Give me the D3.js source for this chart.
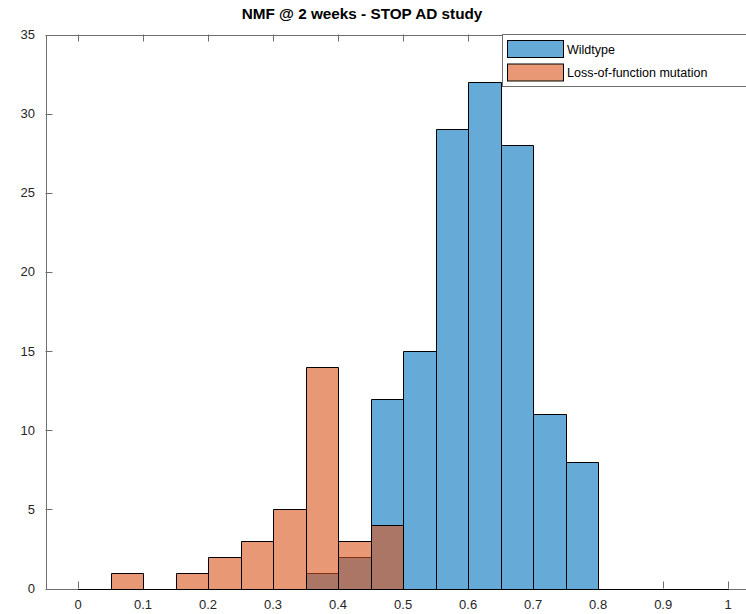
<!DOCTYPE html>
<html>
<head>
<meta charset="utf-8">
<script src="https://cdn.jsdelivr.net/npm/d3@7"></script>
<style>
  body { margin: 0; background: #fff; }
  svg { display: block; font-family: "Liberation Sans", Arial, sans-serif; }
</style>
</head>
<body>
<svg width="746" height="614"></svg>
<script>
// bin edges of both histograms
const binEdges = [0, 0.05, 0.1, 0.15, 0.2, 0.25, 0.3, 0.35, 0.4, 0.45, 0.5,
                  0.55, 0.6, 0.65, 0.7, 0.75, 0.8, 0.85, 0.9, 0.95, 1.0]
const wildtype = [0, 0, 0, 0, 0, 0, 0, 1, 2, 12, 15, 29, 32, 28, 11, 8, 0, 0, 0, 0]
const lossOfFunction = [0, 1, 0, 1, 2, 3, 5, 14, 3, 4, 0, 0, 0, 0, 0, 0, 0, 0, 0, 0]
const xTicks = [0, 0.1, 0.2, 0.3, 0.4, 0.5, 0.6, 0.7, 0.8, 0.9, 1]
const yTicks = [0, 5, 10, 15, 20, 25, 30, 35]
const seriesNames = ['Wildtype', 'Loss-of-function mutation']

const svg = d3.select('svg')
const x = d3.scaleLinear().domain([-0.05, 1.05]).range([45.5, 760.7])
const y = d3.scaleLinear().domain([0, 35]).range([588.5, 34.5])

const colors = ['#0072bd', '#d95319']
const axisCol = '#6e6e6e'
const textCol = '#262626'

function binPath(i, v) {
  const x0 = Math.round(x(binEdges[i])) + 0.5
  const x1 = Math.round(x(binEdges[i + 1])) + 0.5
  const y0 = Math.round(y(0)) + 0.5
  const y1 = Math.round(y(v)) + 0.5
  return `M${x0},${y0}L${x0},${y1}L${x1},${y1}L${x1},${y0}Z`
}

// axes box + ticks
const box = svg.append('g')
box.append('rect')
  .attr('x', Math.round(x(-0.05)) + 0.5).attr('y', Math.round(y(35)) + 0.5)
  .attr('width', x(1.05) - x(-0.05)).attr('height', y(0) - y(35))
  .attr('fill', 'none').attr('stroke', axisCol)

const series = [wildtype, lossOfFunction]
series.forEach((vals, s) => {
  svg.append('g').selectAll('path')
    .data(vals)
    .join('path')
    .attr('d', (d, i) => binPath(i, d))
    .attr('fill', colors[s])
    .attr('fill-opacity', 0.6)
    .attr('stroke', '#000')
    .attr('stroke-width', 1)
})

xTicks.forEach(t => {
  const px = Math.round(x(t)) + 0.5
  box.append('line').attr('x1', px).attr('x2', px)
    .attr('y1', y(0)).attr('y2', y(0) - 7).attr('stroke', axisCol)
  box.append('line').attr('x1', px).attr('x2', px)
    .attr('y1', y(35)).attr('y2', y(35) + 7).attr('stroke', axisCol)
  svg.append('text').attr('x', x(t)).attr('y', 609)
    .attr('text-anchor', 'middle').attr('font-size', 13).attr('fill', textCol)
    .text(t)
})

yTicks.forEach(t => {
  const py = Math.round(y(t)) + 0.5
  box.append('line').attr('x1', x(-0.05)).attr('x2', x(-0.05) + 7)
    .attr('y1', py).attr('y2', py).attr('stroke', axisCol)
  svg.append('text').attr('x', 35).attr('y', y(t) + 4.5)
    .attr('text-anchor', 'end').attr('font-size', 13).attr('fill', textCol)
    .text(t)
})

svg.append('text')
  .attr('x', 362).attr('y', 19)
  .attr('text-anchor', 'middle')
  .attr('font-size', 15.3).attr('font-weight', 'bold').attr('fill', '#000')
  .text('NMF @ 2 weeks - STOP AD study')

// legend
const lg = svg.append('g')
lg.append('rect').attr('x', 502.5).attr('y', 34.5).attr('width', 260).attr('height', 52)
  .attr('fill', '#fff').attr('stroke', axisCol)
seriesNames.forEach((name, i) => {
  lg.append('rect').attr('x', 507.5).attr('y', 40.5 + i * 23.5)
    .attr('width', 56).attr('height', 17)
    .attr('fill', colors[i]).attr('fill-opacity', 0.6).attr('stroke', '#000')
  lg.append('text').attr('x', 567).attr('y', 53.5 + i * 23.5)
    .attr('font-size', 12.5).attr('fill', '#000').text(name)
})
</script>
</body>
</html>
